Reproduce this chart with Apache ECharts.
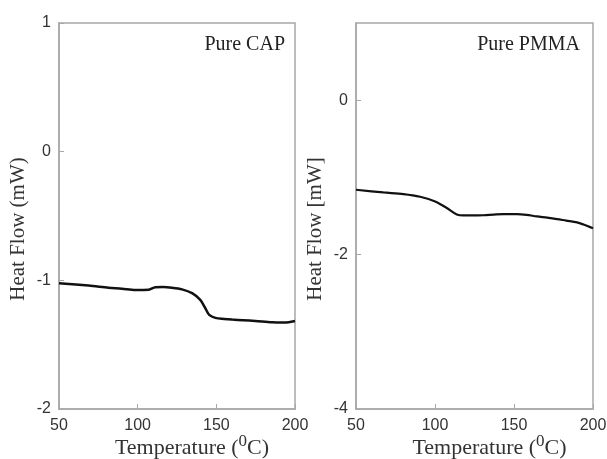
<!DOCTYPE html>
<html>
<head>
<meta charset="utf-8">
<script src="https://cdn.jsdelivr.net/npm/echarts@6/dist/echarts.min.js"></script>
<style>html,body{margin:0;padding:0;background:#fff;}#c{width:607px;height:459px;}</style>
</head>
<body>
<div id="c"></div>
<script>
// Pure CAP (left panel)
var capTemp = [50, 68.8, 81.5, 90, 98.5, 107, 111.2, 116, 121.8, 128.2, 134.6, 139.8, 143, 145.5, 149.4, 155, 160, 167, 174.8, 185.4, 192, 196, 200];
var capFlow = [-1.023, -1.041, -1.057, -1.065, -1.075, -1.073, -1.054, -1.052, -1.057, -1.07, -1.10, -1.152, -1.217, -1.269, -1.292, -1.300, -1.305, -1.310, -1.316, -1.326, -1.328, -1.326, -1.316];
// Pure PMMA (right panel)
var pmmaTemp = [50, 67.3, 80, 90.6, 100.1, 107.5, 113.8, 118, 124, 130.7, 137, 143.3, 151.8, 158, 164.5, 171, 177.2, 183, 189.9, 194, 198.7, 200];
var pmmaFlow = [-1.160, -1.195, -1.216, -1.251, -1.312, -1.397, -1.480, -1.493, -1.493, -1.490, -1.482, -1.475, -1.475, -1.485, -1.506, -1.522, -1.540, -1.560, -1.583, -1.610, -1.648, -1.660];
var xTicks = [50, 100, 150, 200];
var capRange = [-2, 1];
var pmmaRange = [-4, 1];

function pairs(xs, ys) { return xs.map(function (x, i) { return [x, ys[i]]; }); }

var chart = echarts.init(document.getElementById('c'), null, { renderer: 'canvas' });
var axisGray = '#a8a8a8';
var serif = '"Liberation Serif", "DejaVu Serif", serif';
var sans = '"Liberation Sans", Arial, sans-serif';
function xAxis(idx) {
  return {
    type: 'value', gridIndex: idx, min: xTicks[0], max: xTicks[xTicks.length - 1], interval: 50,
    axisLine: { show: true, onZero: false, lineStyle: { color: axisGray, width: 1.5 } },
    axisTick: { show: true, inside: true, length: 5, lineStyle: { color: axisGray } },
    splitLine: { show: false },
    axisLabel: { color: '#333', fontFamily: sans, fontSize: 16, margin: 9 },
    name: '{a|Temperature (}{s|0}{a|C)}', nameLocation: 'middle', nameGap: 24, nameMoveOverlap: false,
    nameTextStyle: {
      padding: [0, 0, 0, 30],
      rich: {
        a: { fontFamily: serif, fontSize: 22, color: '#333', verticalAlign: 'bottom' },
        s: { fontFamily: serif, fontSize: 17, color: '#333', verticalAlign: 'top', padding: [0, 0, 9, 0] }
      }
    }
  };
}
function yAxis(idx, range, interval, name) {
  return {
    type: 'value', gridIndex: idx, min: range[0], max: range[1], interval: interval,
    axisLine: { show: true, onZero: false, lineStyle: { color: axisGray, width: 1.5 } },
    axisTick: { show: true, inside: true, length: 5, lineStyle: { color: axisGray } },
    splitLine: { show: false },
    axisLabel: { color: '#333', fontFamily: sans, fontSize: 16, margin: 8, showMaxLabel: idx === 0 },
    name: name, nameLocation: 'middle', nameGap: 30, nameMoveOverlap: false,
    nameTextStyle: { fontFamily: serif, fontSize: 21, color: '#333', padding: [0, 26, 0, 0] }
  };
}
chart.setOption({
  animation: false,
  backgroundColor: '#fff',
  title: [
    { text: 'Pure CAP', right: 607 - 290, top: 30, textStyle: { fontFamily: serif, fontSize: 20, fontWeight: 'normal', color: '#222' } },
    { text: 'Pure PMMA', right: 607 - 585, top: 30, textStyle: { fontFamily: serif, fontSize: 20, fontWeight: 'normal', color: '#222' } }
  ],
  grid: [
    { left: 59, right: 312, top: 23, bottom: 50, containLabel: false, outerBoundsMode: 'none', show: true, borderColor: axisGray, borderWidth: 1.5 },
    { left: 356, right: 14, top: 23, bottom: 50, containLabel: false, outerBoundsMode: 'none', show: true, borderColor: axisGray, borderWidth: 1.5 }
  ],
  xAxis: [xAxis(0), xAxis(1)],
  yAxis: [yAxis(0, capRange, 1, 'Heat Flow (mW)'), yAxis(1, pmmaRange, 2, 'Heat Flow [mW]')],
  series: [
    { type: 'line', xAxisIndex: 0, yAxisIndex: 0, data: pairs(capTemp, capFlow), showSymbol: false, smooth: 0.3, lineStyle: { color: '#111', width: 2.5 } },
    { type: 'line', xAxisIndex: 1, yAxisIndex: 1, data: pairs(pmmaTemp, pmmaFlow), showSymbol: false, smooth: 0.3, lineStyle: { color: '#111', width: 2.2 } }
  ]
});
</script>
</body>
</html>
